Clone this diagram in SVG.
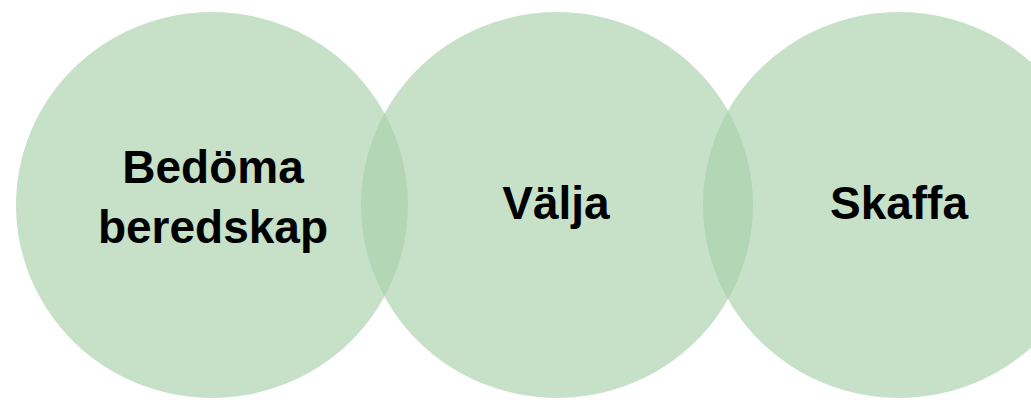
<svg xmlns="http://www.w3.org/2000/svg" width="1031" height="403" viewBox="0 0 1031 403">
  <style>
    .c { fill: #A9D1AB; fill-opacity: 0.66; }
    .t { font-family: "Liberation Sans", Arial, sans-serif; font-weight: bold; font-size: 46px; fill: #000; text-anchor: middle; }
  </style>
  <rect width="1031" height="403" fill="#ffffff"/>
  <g id="connectors"></g>
  <g id="node-bedoma">
    <ellipse class="c" cx="212" cy="205" rx="196" ry="193"/>
    <text class="t" x="213" y="183">Bedöma</text>
    <text class="t" x="213" y="243">beredskap</text>
  </g>
  <g id="node-valja">
    <ellipse class="c" cx="557" cy="205" rx="196" ry="193"/>
    <text class="t" x="556" y="219">Välja</text>
  </g>
  <g id="node-skaffa">
    <ellipse class="c" cx="899" cy="205" rx="196" ry="193"/>
    <text class="t" x="899" y="219">Skaffa</text>
  </g>
</svg>
